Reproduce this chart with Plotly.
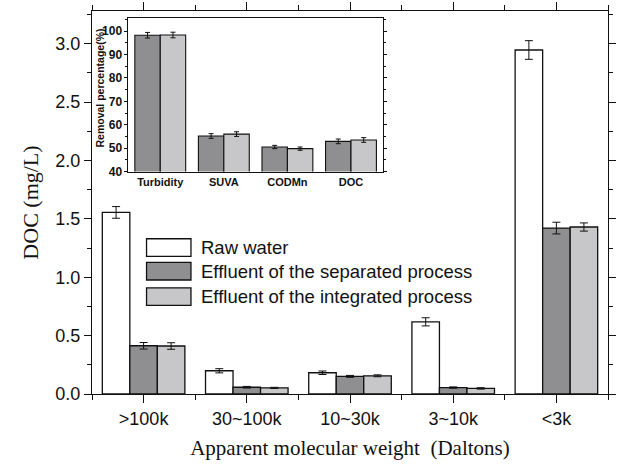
import plotly.graph_objects as go

# Main chart data
categories = [">100k", "30~100k", "10~30k", "3~10k", "<3k"]
raw_water = [1.555, 0.199, 0.182, 0.618, 2.946]
raw_err = [0.05, 0.018, 0.015, 0.035, 0.08]
separated = [0.413, 0.058, 0.151, 0.055, 1.421]
separated_err = [0.028, 0.007, 0.008, 0.006, 0.05]
integrated = [0.411, 0.052, 0.156, 0.048, 1.43]
integrated_err = [0.028, 0.005, 0.008, 0.006, 0.035]
series_names = ["Raw water", "Effluent of the separated process", "Effluent of the integrated process"]

# Inset data
inset_categories = ["Turbidity", "SUVA", "CODMn", "DOC"]
inset_separated = [98.2, 55.2, 50.5, 52.9]
inset_separated_err = [1.2, 1.0, 0.7, 1.0]
inset_integrated = [98.3, 56.0, 49.8, 53.5]
inset_integrated_err = [1.2, 1.0, 0.7, 1.0]

colors = ["#ffffff", "#8f8f92", "#c7c7c9"]
SANS = "Liberation Sans, Arial, sans-serif"
SERIF = "Liberation Serif, Times New Roman, serif"

x_main = list(range(len(categories)))
x_inset = list(range(len(inset_categories)))

fig = go.Figure()

for vals, errs, col, name in [(raw_water, raw_err, colors[0], series_names[0]),
                              (separated, separated_err, colors[1], series_names[1]),
                              (integrated, integrated_err, colors[2], series_names[2])]:
    fig.add_trace(go.Bar(
        x=x_main, y=vals, name=name, marker=dict(color=col, line=dict(color="#111", width=1.3)),
        error_y=dict(type="data", array=errs, color="#111", thickness=1, width=4),
        showlegend=False, xaxis="x", yaxis="y"))

for vals, errs, col in [(inset_separated, inset_separated_err, colors[1]),
                        (inset_integrated, inset_integrated_err, colors[2])]:
    fig.add_trace(go.Bar(
        x=x_inset, y=vals, marker=dict(color=col, line=dict(color="#111", width=1.1)),
        error_y=dict(type="data", array=errs, color="#111", thickness=1, width=2.5),
        showlegend=False, xaxis="x2", yaxis="y2"))

# Legend drawn manually
shapes = []
annotations = []
legend_rows = [(0.4054, 0.3594), (0.3438, 0.2977), (0.2771, 0.2313)]
for (ytop, ybot), col, name in zip(legend_rows, colors, series_names):
    shapes.append(dict(type="rect", xref="paper", yref="paper", x0=0.1057, x1=0.1918,
                       y0=ybot, y1=ytop, fillcolor=col, line=dict(color="#111", width=1.3)))
    annotations.append(dict(xref="paper", yref="paper", x=0.2065, y=(ytop + ybot) / 2,
                            text=name, showarrow=False, xanchor="left", yanchor="middle",
                            font=dict(family=SANS, size=18.5, color="#111")))

# Inset y-axis title
annotations.append(dict(xref="paper", yref="paper", x=0.0153, y=0.80, textangle=-90,
                        text="<b>Removal percentage(%)</b>", showarrow=False,
                        xanchor="center", yanchor="middle",
                        font=dict(family=SANS, size=10.5, color="#111")))

fig.update_layout(
    width=618, height=465,
    margin=dict(l=92, r=2, t=10, b=71),
    paper_bgcolor="white", plot_bgcolor="white",
    barmode="group", bargap=0.2, bargroupgap=0,
    shapes=shapes, annotations=annotations,
    xaxis=dict(
        domain=[0, 1], range=[-0.5, 4.5], tickmode="array", tickvals=x_main, ticktext=categories,
        ticks="outside", ticklen=8, tickwidth=1.2, tickcolor="#111",
        minor=dict(tickmode="array", tickvals=[-0.5, 0.5, 1.5, 2.5, 3.5, 4.5], ticks="outside",
                   ticklen=5, tickwidth=1.2, tickcolor="#111"),
        showline=True, linecolor="#111", linewidth=1.3, mirror="allticks",
        showgrid=False, zeroline=False,
        tickfont=dict(family=SANS, size=18, color="#111"),
        title=dict(text="Apparent molecular weight  (Daltons)", standoff=12,
                   font=dict(family=SERIF, size=21, color="#111"))),
    yaxis=dict(
        domain=[0, 1], range=[0, 3.28], tickmode="linear", tick0=0, dtick=0.5, tickformat=".1f",
        ticks="outside", ticklen=7, tickwidth=1.2, tickcolor="#111",
        minor=dict(dtick=0.25, ticks="outside", ticklen=4, tickwidth=1.2, tickcolor="#111"),
        showline=True, linecolor="#111", linewidth=1.3, mirror="allticks",
        showgrid=False, zeroline=False,
        tickfont=dict(family=SANS, size=18, color="#111"),
        title=dict(text="DOC (mg/L)", standoff=10,
                   font=dict(family=SERIF, size=22, color="#111"))),
    xaxis2=dict(
        domain=[0.0707, 0.5635], anchor="y2", range=[-0.5, 3.5], tickmode="array",
        tickvals=x_inset, ticktext=["<b>%s</b>" % c for c in inset_categories],
        ticks="", showline=True, linecolor="#111", linewidth=1, mirror=True,
        showgrid=False, zeroline=False,
        tickfont=dict(family=SANS, size=11, color="#111")),
    yaxis2=dict(
        domain=[0.5807, 0.9826], anchor="x2", range=[40, 105.7], tickmode="linear", tick0=40, dtick=10,
        ticks="outside", ticklen=3, tickwidth=1, tickcolor="#111",
        minor=dict(dtick=5, ticks="outside", ticklen=2, tickwidth=1, tickcolor="#111"),
        showline=True, linecolor="#111", linewidth=1, mirror="allticks",
        showgrid=False, zeroline=False,
        tickfont=dict(family=SANS, size=12, color="#111"), tickprefix="<b>", ticksuffix="</b>"),
)

fig.write_html("out.html")
